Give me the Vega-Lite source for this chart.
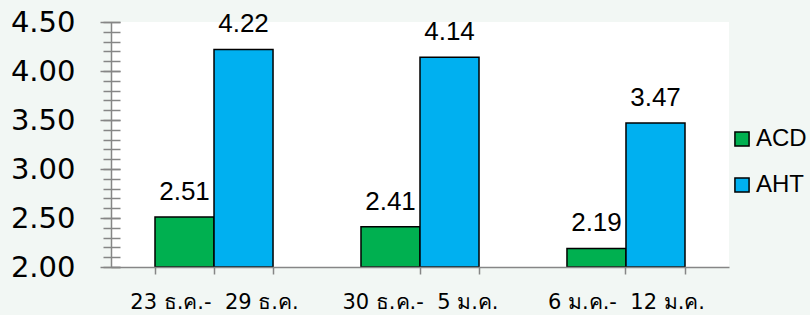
{
  "$schema": "https://vega.github.io/schema/vega-lite/v6.json",
  "width": 618,
  "height": 245,
  "autosize": {"type": "none"},
  "padding": {"left": 111, "top": 22, "right": 81, "bottom": 48},
  "background": "#F2F7F4",
  "config": {"view": {"fill": "#FFFFFF", "stroke": null}},
  "data": {
    "values": [
      {"week": "23 ธ.ค.-\u00a0 29 ธ.ค.", "series": "ACD", "value": 2.51},
      {"week": "23 ธ.ค.-\u00a0 29 ธ.ค.", "series": "AHT", "value": 4.22},
      {"week": "30 ธ.ค.-\u00a0 5 ม.ค.", "series": "ACD", "value": 2.41},
      {"week": "30 ธ.ค.-\u00a0 5 ม.ค.", "series": "AHT", "value": 4.14},
      {"week": "6 ม.ค.-\u00a0 12 ม.ค.", "series": "ACD", "value": 2.19},
      {"week": "6 ม.ค.-\u00a0 12 ม.ค.", "series": "AHT", "value": 3.47}
    ]
  },
  "resolve": {"axis": {"x": "independent", "y": "independent"}},
  "layer": [
    {
      "mark": {"type": "bar", "stroke": "#000000", "strokeWidth": 1.5},
      "encoding": {
        "x": {
          "field": "week", "type": "nominal", "sort": null,
          "scale": {"paddingInner": 0.427, "paddingOuter": 0.2136},
          "axis": {
            "orient": "bottom", "title": null, "tickBand": "extent", "tickSize": 7,
            "tickColor": "#868686", "tickWidth": 1.5, "domainColor": "#868686", "domainWidth": 1.5,
            "labelFontSize": 21, "labelFont": "DejaVu Sans", "labelColor": "#000000",
            "labelAngle": 0, "labelPadding": 17, "zindex": 1
          }
        },
        "xOffset": {"field": "series", "type": "nominal", "scale": {"paddingInner": 0, "paddingOuter": 0}},
        "y": {
          "field": "value", "type": "quantitative",
          "scale": {"domain": [2, 4.5], "nice": false, "zero": false},
          "axis": {
            "orient": "left", "title": null, "offset": -9, "domain": false,
            "values": [2, 2.5, 3, 3.5, 4, 4.5], "format": ".2f",
            "tickSize": 20, "tickColor": "#868686", "tickWidth": 1.5, "grid": false,
            "labelFontSize": 29, "labelFont": "DejaVu Sans", "labelColor": "#000000", "labelPadding": 25
          }
        },
        "y2": {"datum": 2},
        "color": {
          "field": "series", "type": "nominal",
          "scale": {"domain": ["ACD", "AHT"], "range": ["#00B050", "#00B0F0"]},
          "legend": {
            "title": null, "orient": "none", "legendX": 619, "legendY": 105,
            "symbolType": "square", "symbolSize": 200, "symbolStrokeColor": "#000000",
            "symbolStrokeWidth": 1.5, "labelFontSize": 24, "labelFont": "Liberation Sans",
            "labelColor": "#000000", "labelOffset": 2, "rowPadding": 22, "padding": 0
          }
        }
      }
    },
    {
      "mark": {"type": "text", "font": "Liberation Sans", "fontSize": 26, "baseline": "alphabetic", "dy": -17, "color": "#000000"},
      "encoding": {
        "x": {
          "field": "week", "type": "nominal", "sort": null,
          "axis": {
            "orient": "bottom", "title": null, "labels": false, "domain": false,
            "tickSize": 7, "tickColor": "#868686", "tickWidth": 1.5, "zindex": 1
          }
        },
        "xOffset": {"field": "series", "type": "nominal"},
        "y": {
          "field": "value", "type": "quantitative",
          "axis": {
            "orient": "left", "title": null, "offset": -9, "domain": false, "labels": false,
            "values": [2, 2.1, 2.2, 2.3, 2.4, 2.5, 2.6, 2.7, 2.8, 2.9, 3, 3.1, 3.2, 3.3, 3.4, 3.5, 3.6, 3.7, 3.8, 3.9, 4, 4.1, 4.2, 4.3, 4.4, 4.5],
            "tickSize": 17, "tickColor": "#868686", "tickWidth": 1.5, "grid": false
          }
        },
        "text": {"field": "value", "type": "quantitative", "format": ".2f"}
      }
    },
    {
      "mark": {"type": "point", "opacity": 0},
      "encoding": {
        "x": {"field": "week", "type": "nominal", "sort": null, "axis": null},
        "xOffset": {"field": "series", "type": "nominal"},
        "y": {
          "field": "value", "type": "quantitative",
          "axis": {
            "orient": "left", "title": null, "domain": true, "domainColor": "#868686", "domainWidth": 1.5,
            "ticks": false, "labels": false, "grid": false
          }
        }
      }
    }
  ]
}
